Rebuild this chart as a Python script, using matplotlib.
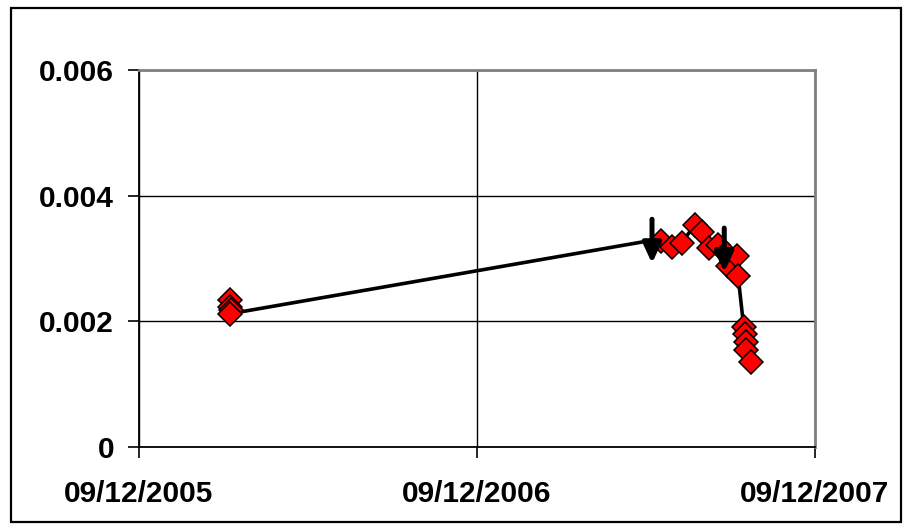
import matplotlib
matplotlib.use("Agg")
import matplotlib.pyplot as plt
import matplotlib.dates as mdates
from matplotlib.patches import Rectangle
from matplotlib.transforms import ScaledTranslation
import pandas as pd

# data
dates = ["2006-03-17", "2006-03-17", "2006-03-18", "2006-03-17",
         "2007-06-16", "2007-06-26", "2007-07-08", "2007-07-18", "2007-08-01",
         "2007-08-09", "2007-08-16", "2007-08-26", "2007-09-02", "2007-09-04",
         "2007-09-06", "2007-09-16", "2007-09-17", "2007-09-23", "2007-09-24",
         "2007-09-25", "2007-09-26", "2007-10-01"]
values = [0.00234, 0.00223, 0.00218, 0.00212,
          0.00329, 0.00328, 0.00318, 0.00325, 0.00353,
          0.00342, 0.00317, 0.00322, 0.00315, 0.00309,
          0.00288, 0.00304, 0.00272, 0.00191, 0.00180,
          0.00167, 0.00154, 0.00135]
# upper limits are drawn as arrows, not as diamonds
upper_limit = [False, False, False, False,
               True, False, False, False, False,
               False, False, False, True, False,
               False, False, False, False, False,
               False, False, False]

x_ticks = ["2005-12-09", "2006-12-09", "2007-12-09"]
y_ticks = [0, 0.002, 0.004, 0.006]
y_tick_labels = ["0", "0.002", "0.004", "0.006"]

plt.rcParams["font.family"] = ["Liberation Sans", "DejaVu Sans"]

x = pd.to_datetime(dates)
xt = pd.to_datetime(x_ticks)

fig = plt.figure(figsize=(9.05, 5.29), dpi=100)
ax = fig.add_axes([139 / 905, 1 - 447 / 529, 676 / 905, 377 / 529])

ax.plot(x, values, color="black", lw=2.6, zorder=3)
mx = [d for d, u in zip(x, upper_limit) if not u]
my = [v for v, u in zip(values, upper_limit) if not u]
ax.plot(mx, my, ls="none", marker="D", ms=12, mfc="red", mec="black",
        mew=1.1, zorder=4)

# down arrows for the upper limits
top = ax.transData + ScaledTranslation(0, 21 / 100, fig.dpi_scale_trans)
tip = ax.transData + ScaledTranslation(0, -23 / 100, fig.dpi_scale_trans)
for d, v, u in zip(x, values, upper_limit):
    if u:
        xd = mdates.date2num(d)
        ax.annotate("", xy=(xd, v), xycoords=tip, xytext=(xd, v), textcoords=top,
                    arrowprops=dict(arrowstyle="-|>,head_length=0.6,head_width=0.28",
                                    mutation_scale=20, color="black", lw=3.6,
                                    shrinkA=0, shrinkB=0),
                    zorder=5)

ax.set_xlim(xt[0], xt[-1])
ax.set_ylim(0, 0.006)
ax.set_xticks(xt)
ax.xaxis.set_major_formatter(mdates.DateFormatter("%d/%m/%Y"))
ax.set_yticks(y_ticks)
ax.set_yticklabels(y_tick_labels)

ax.grid(True, color="black", lw=1.0)
ax.set_axisbelow(True)
for s in ["left", "bottom"]:
    ax.spines[s].set_color("black")
    ax.spines[s].set_linewidth(1.3)
for s in ["top", "right"]:
    ax.spines[s].set_color("#808080")
    ax.spines[s].set_linewidth(2.0)

ax.tick_params(axis="both", direction="out", length=8, width=1.2, color="black",
               labelsize=21.5)
ax.tick_params(axis="x", pad=16)
ax.tick_params(axis="y", pad=10)
for lab in ax.get_xticklabels() + ax.get_yticklabels():
    lab.set_fontweight("bold")

# outer chart frame
fig.add_artist(Rectangle((11 / 905, 1 - 522 / 529), 890 / 905, 514 / 529,
                         transform=fig.transFigure, fill=False,
                         edgecolor="black", lw=1.6))

fig.savefig("out.png", dpi=100)
